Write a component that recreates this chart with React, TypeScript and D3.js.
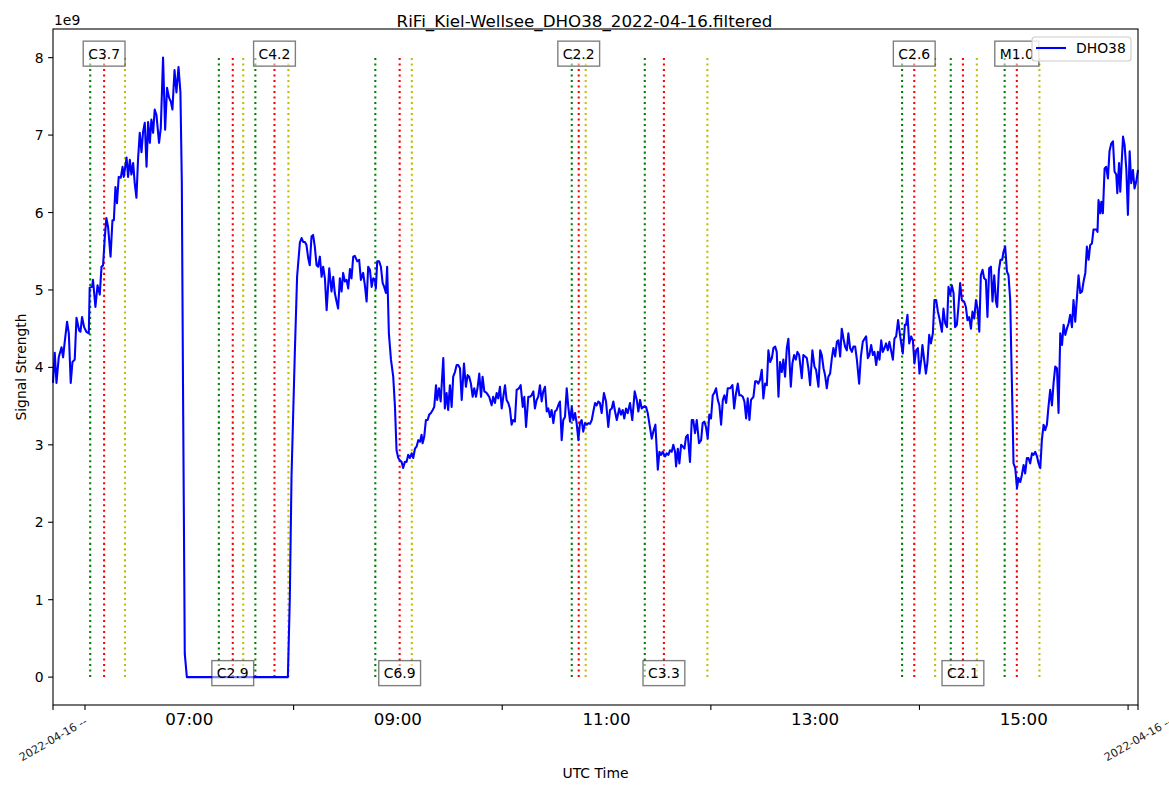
import { useRef, useEffect } from "react";
import * as d3 from "d3";

// [minute of day (UTC), signal strength in units of 1e9]
const dho38: [number, number][] = [
  [341.6,3.80],[342.6,4.19],[343.6,3.80],[344.9,4.13],[346.5,4.26],[347.4,4.13],[348.3,4.32],[349.7,4.59],[350.7,4.44],[351.8,3.80],
  [352.8,4.07],[354.1,4.10],[355.1,4.64],[356.6,4.48],[357.4,4.46],[358.3,4.65],[359.5,4.52],[360.8,4.46],[362.2,4.44],[362.7,5.03],
  [364.1,5.04],[364.6,5.13],[366.0,4.78],[367.2,5.06],[368.5,4.94],[369.5,5.30],[370.4,5.32],[371.4,5.68],[372.3,5.93],[373.3,5.81],
  [374.7,5.43],[375.8,5.90],[376.6,5.90],[377.5,6.33],[378.4,6.12],[379.4,6.46],[380.6,6.45],[381.6,6.59],[382.3,6.46],[383.9,6.71],
  [384.8,6.46],[385.8,6.68],[386.7,6.49],[387.7,6.64],[388.6,6.38],[389.6,6.19],[390.5,6.68],[391.5,7.03],[392.5,6.78],[393.4,7.04],
  [394.4,7.16],[395.4,6.59],[396.3,7.17],[397.3,6.90],[398.2,7.20],[399.2,7.03],[400.1,7.33],[401.1,7.26],[402.6,6.90],[403.6,7.09],
  [404.9,8.00],[406.1,7.07],[407.2,7.61],[408.4,7.48],[409.4,7.43],[410.3,7.33],[411.5,7.84],[412.6,7.55],[413.8,7.88],[414.9,7.55],
  [415.7,6.38],[416.4,3.70],[417.4,0.30],[418.6,0.00],
  [476.7,0.00],[477.8,1.00],[478.8,2.59],[480.7,4.19],[482.0,5.17],[483.6,5.61],[484.6,5.67],[485.5,5.62],[486.5,5.62],[487.4,5.58],
  [488.4,5.41],[489.3,5.32],[490.3,5.69],[491.2,5.71],[492.2,5.56],[493.2,5.32],[494.1,5.30],[495.1,5.43],[496.1,5.17],[497.0,5.30],
  [498.0,5.15],[499.0,4.74],[500.5,5.28],[501.8,4.98],[502.8,5.17],[503.7,4.96],[504.7,4.85],[505.6,4.76],[506.6,5.15],[507.6,4.98],
  [508.5,5.22],[509.5,5.11],[510.5,5.13],[511.4,5.02],[512.4,5.27],[513.3,5.15],[514.3,5.43],[515.2,5.44],[516.6,5.37],[517.7,5.39],
  [518.7,5.13],[520.0,5.22],[521.0,5.06],[522.0,4.85],[522.9,5.30],[523.9,5.26],[524.9,5.04],[525.8,5.15],[526.8,5.13],[527.3,5.02],
  [528.1,5.37],[529.2,5.37],[530.2,5.30],[531.2,5.09],[532.1,5.04],[533.1,4.96],[533.8,5.30],[534.8,4.44],[536.0,4.10],[537.3,3.88],
  [538.3,3.49],[539.2,2.93],[540.2,2.83],[541.1,2.80],[542.1,2.78],[543.0,2.70],[544.0,2.78],[545.0,2.78],[545.9,2.87],[546.9,2.83],
  [547.9,2.89],[548.8,2.83],[549.8,2.95],[550.8,2.98],[551.7,3.06],[552.7,3.04],[553.6,3.13],[554.2,3.02],[555.1,3.10],[556.1,3.32],
  [557.1,3.32],[558.0,3.39],[559.0,3.41],[560.0,3.45],[560.9,3.49],[561.9,3.77],[562.6,3.58],[563.6,3.73],[564.6,3.56],[566.1,4.12],
  [567.0,3.47],[568.0,3.67],[568.9,3.45],[569.9,3.77],[570.9,3.49],[571.8,3.88],[572.8,3.94],[573.8,4.03],[574.7,4.03],[575.7,3.99],
  [576.7,3.58],[578.0,4.05],[579.1,3.75],[580.1,3.90],[581.0,3.88],[582.0,3.79],[583.0,3.62],[583.9,3.73],[584.9,3.62],[585.9,3.75],
  [586.8,3.92],[587.8,3.62],[588.7,3.88],[589.7,3.69],[591.0,3.67],[592.5,3.62],[593.9,3.51],[594.8,3.62],[595.8,3.54],[596.8,3.67],
  [597.7,3.60],[598.7,3.75],[599.7,3.47],[600.6,3.62],[601.6,3.77],[602.5,3.58],[603.5,3.54],[604.4,3.47],[605.4,3.26],[606.3,3.32],
  [607.3,3.30],[608.3,3.71],[609.6,3.73],[610.6,3.77],[611.8,3.49],[612.7,3.62],[613.7,3.23],[615.0,3.62],[616.0,3.62],[616.9,3.64],
  [617.9,3.69],[618.8,3.47],[619.8,3.58],[620.7,3.62],[621.7,3.77],[622.7,3.56],[623.6,3.69],[624.6,3.75],[625.6,3.43],[626.5,3.47],
  [627.5,3.36],[628.4,3.45],[629.4,3.28],[630.3,3.43],[631.3,3.45],[632.2,3.51],[633.2,3.56],[634.2,3.06],[635.1,3.32],[636.1,3.36],
  [637.1,3.73],[638.0,3.49],[639.0,3.30],[640.0,3.49],[640.9,3.32],[641.9,3.41],[642.8,3.28],[643.8,3.06],[644.7,3.28],[645.7,3.32],
  [646.6,3.17],[647.6,3.28],[648.6,3.26],[649.5,3.28],[650.5,3.27],[651.5,3.32],[652.4,3.43],[653.4,3.54],[654.3,3.51],[655.3,3.56],
  [656.2,3.54],[657.2,3.41],[658.5,3.67],[659.7,3.56],[661.0,3.23],[662.0,3.45],[663.0,3.47],[663.9,3.56],[664.9,3.43],[665.9,3.32],
  [667.3,3.47],[668.3,3.39],[669.3,3.45],[670.2,3.34],[671.2,3.47],[672.2,3.41],[673.5,3.54],[674.8,3.32],[676.2,3.69],[677.4,3.58],
  [678.3,3.43],[679.3,3.58],[680.2,3.47],[681.2,3.49],[682.7,3.49],[683.7,3.41],[684.6,3.28],[686.0,3.08],[686.9,3.17],[688.1,3.26],
  [689.5,2.68],[690.4,2.91],[691.4,2.87],[692.3,2.91],[693.7,2.85],[694.6,2.89],[695.6,2.87],[696.5,2.93],[697.5,2.91],[698.4,3.00],
  [699.4,2.91],[700.0,2.72],[701.0,2.95],[701.9,2.76],[702.9,3.00],[703.8,2.98],[704.8,2.95],[705.7,3.10],[706.7,3.13],[708.0,2.78],
  [709.0,3.32],[709.9,3.32],[710.9,3.15],[711.9,3.32],[713.2,3.02],[714.4,3.06],[715.3,3.28],[716.3,3.30],[717.2,3.23],[718.2,3.08],
  [719.1,3.39],[720.1,3.34],[721.1,3.64],[722.0,3.67],[723.0,3.73],[724.0,3.58],[724.9,3.51],[725.9,3.26],[726.9,3.58],[727.8,3.64],
  [728.8,3.54],[729.7,3.73],[731.1,3.73],[732.4,3.77],[733.4,3.47],[734.3,3.64],[735.5,3.79],[736.4,3.64],[737.4,3.64],[738.4,3.62],
  [739.3,3.56],[740.3,3.34],[741.2,3.60],[742.2,3.32],[743.1,3.58],[744.5,3.62],[745.5,3.82],[746.4,3.82],[747.3,3.79],[748.3,3.84],
  [749.3,3.97],[750.2,3.60],[751.2,3.79],[752.2,3.77],[753.1,4.22],[754.1,4.07],[755.1,4.12],[756.0,4.25],[757.0,4.27],[757.9,4.20],
  [758.9,3.62],[759.8,4.07],[760.8,3.94],[761.7,4.10],[762.7,3.88],[763.7,4.25],[764.6,4.37],[766.0,3.75],[766.9,4.05],[767.9,4.16],
  [768.9,4.10],[769.8,4.20],[770.8,4.16],[772.3,3.86],[773.2,4.16],[774.2,4.14],[775.2,4.12],[776.1,3.99],[777.1,3.77],[778.4,4.22],
  [779.6,4.01],[780.5,3.97],[781.9,3.75],[782.9,4.22],[783.8,4.16],[784.8,3.99],[785.7,3.90],[786.7,3.73],[787.6,3.88],[788.6,3.92],
  [789.6,4.12],[790.5,4.25],[791.5,4.14],[792.5,4.33],[793.4,4.35],[794.4,4.14],[795.3,4.50],[796.3,4.37],[797.2,4.27],[798.2,4.22],
  [799.1,4.44],[800.1,4.25],[801.1,4.20],[802.0,4.27],[803.0,4.27],[804.0,4.10],[805.3,3.79],[806.3,4.14],[807.4,4.33],[808.4,4.37],
  [809.3,4.40],[810.3,4.12],[811.2,4.16],[812.2,4.29],[813.2,4.16],[814.1,4.20],[815.1,4.03],[816.1,4.20],[817.0,4.10],[818.0,4.35],
  [818.9,4.20],[819.9,4.25],[820.8,4.31],[821.8,4.22],[822.7,4.33],[824.7,4.10],[825.6,4.37],[826.6,4.40],[827.7,4.61],[828.9,4.40],
  [830.4,4.18],[831.6,4.55],[832.3,4.55],[833.1,4.68],[834.1,4.31],[835.2,4.40],[836.2,4.35],[837.1,4.05],[838.1,4.22],[839.1,4.25],
  [840.0,3.92],[841.0,4.10],[841.7,4.29],[842.7,4.10],[843.7,3.92],[844.6,4.07],[845.6,4.42],[846.6,4.31],[847.7,4.44],[848.6,4.87],
  [849.6,4.87],[850.6,4.72],[851.5,4.63],[852.9,4.46],[853.8,4.76],[854.8,4.57],[855.8,4.52],[856.7,5.04],[857.7,4.94],[858.6,5.06],
  [859.6,4.96],[860.5,4.52],[861.5,4.55],[862.4,4.78],[863.4,5.09],[864.4,4.87],[865.7,4.85],[866.7,4.78],[867.6,4.61],[868.6,4.65],
  [869.6,4.50],[870.5,4.72],[871.5,4.63],[872.5,4.87],[873.4,4.76],[874.4,4.46],[875.3,5.19],[876.3,5.26],[877.2,5.15],[878.2,5.13],
  [879.1,4.65],[880.1,5.28],[881.1,5.30],[882.0,4.85],[883.0,5.19],[884.0,4.85],[884.7,4.78],[885.7,5.26],[886.6,5.39],[887.6,5.39],
  [888.3,5.49],[889.3,5.56],[890.3,5.24],[891.2,5.19],[892.2,4.87],[892.8,4.18],[893.5,3.45],[894.1,2.76],[895.1,2.70],[896.1,2.44],
  [897.0,2.57],[898.0,2.52],[898.9,2.61],[899.9,2.74],[900.8,2.63],[901.8,2.83],[902.7,2.83],[903.7,2.76],[904.7,2.89],[905.6,2.87],
  [906.6,2.91],[907.6,2.85],[908.5,2.76],[909.5,2.70],[910.4,3.06],[911.4,3.26],[912.3,3.19],[913.3,3.26],[914.2,3.49],[915.2,3.71],
  [916.2,3.51],[917.1,3.79],[918.1,4.01],[919.1,3.99],[920.0,3.41],[921.0,4.44],[922.0,4.29],[922.9,4.55],[923.9,4.42],[924.8,4.50],
  [925.8,4.57],[926.7,4.68],[927.7,4.52],[928.6,4.87],[929.6,4.59],[930.6,4.91],[931.5,5.19],[932.5,4.96],[933.5,4.98],[934.4,5.11],
  [935.4,5.22],[936.3,5.56],[937.3,5.39],[938.2,5.58],[939.2,5.60],[940.1,5.78],[941.7,5.78],[942.4,5.75],[943.0,6.16],[944.0,5.99],
  [944.6,6.14],[945.5,5.99],[946.5,6.57],[947.4,6.59],[948.4,6.44],[949.3,6.79],[950.3,6.89],[951.3,6.92],[952.2,6.53],[953.2,6.49],
  [953.8,6.25],[954.8,6.64],[955.5,6.27],[956.3,6.64],[957.1,6.98],[958.0,6.87],[959.0,6.55],[959.9,5.97],[960.9,6.79],[961.8,6.38],
  [962.8,6.55],[963.7,6.31],[964.7,6.40],[965.7,6.55],
];

// GOES flare events: class, start, peak, end (UTC)
const flareClass = ["C3.7", "C2.9", "C4.2", "C6.9", "C2.2", "C3.3", "C2.6", "C2.1", "M1.0"];
const flareStart = ["06:03", "07:17", "07:38", "08:47", "10:40", "11:22", "13:50", "14:18", "14:49"];
const flarePeak = ["06:11", "07:25", "07:49", "09:01", "10:44", "11:33", "13:57", "14:25", "14:56"];
const flareEnd = ["06:23", "07:31", "07:57", "09:08", "10:48", "11:58", "14:09", "14:33", "15:09"];

const tickHours = [6, 8, 10, 12, 14, 16];
const labelHours = [7, 9, 11, 13, 15];
const yTicks = [0, 1, 2, 3, 4, 5, 6, 7, 8];
const dateLabel = "2022-04-16 --";

const W = 1169;
const H = 792;
const FONT = "DejaVu Sans, Liberation Sans, sans-serif";

const toMin = (s: string) => {
  const [h, m] = s.split(":").map(Number);
  return h * 60 + m;
};

export default function App() {
  const svgRef = useRef<SVGSVGElement>(null);

  useEffect(() => {
    if (!svgRef.current) return;
    const svg = d3.select(svgRef.current);
    svg.selectAll("*").remove();

    const margin = { top: 29, right: 31, bottom: 87, left: 53 };
    const x0 = margin.left;
    const x1 = W - margin.right;
    const y0 = margin.top;
    const y1 = H - margin.bottom;

    const xScale = d3.scaleLinear()
      .domain(d3.extent(dho38, (d) => d[0]) as [number, number])
      .range([x0, x1]);
    const yScale = d3.scaleLinear().domain([-0.36, 8.37]).range([y1, y0]);

    svg.attr("width", W).attr("height", H).style("font-family", FONT);
    svg.append("rect").attr("width", W).attr("height", H).attr("fill", "#fff");

    const vmax = d3.max(dho38, (d) => d[1]) as number;

    // flare markers
    const markers = svg.append("g");
    const kinds: [string[], string][] = [
      [flareStart, "#008000"],
      [flarePeak, "#ff0000"],
      [flareEnd, "#bfbf00"],
    ];
    kinds.forEach(([times, color]) => {
      markers.selectAll(null)
        .data(times)
        .join("line")
        .attr("x1", (t) => xScale(toMin(t)))
        .attr("x2", (t) => xScale(toMin(t)))
        .attr("y1", yScale(0))
        .attr("y2", yScale(vmax))
        .attr("stroke", color)
        .attr("stroke-width", 2.08)
        .attr("stroke-dasharray", "2.08,3.43");
    });

    // signal line
    const line = d3.line<[number, number]>()
      .x((d) => xScale(d[0]))
      .y((d) => yScale(d[1]));
    svg.append("path")
      .datum(dho38)
      .attr("d", line)
      .attr("fill", "none")
      .attr("stroke", "#0000ff")
      .attr("stroke-width", 2.08)
      .attr("stroke-linejoin", "round");

    // flare class labels, alternating top / bottom
    flareClass.forEach((c, i) => {
      const cx = xScale(toMin(flarePeak[i]));
      const cy = yScale(i % 2 === 0 ? vmax : 0) - 4;
      const g = svg.append("g");
      const rect = g.append("rect");
      const txt = g.append("text")
        .attr("x", cx).attr("y", cy + 5)
        .attr("text-anchor", "middle")
        .attr("font-size", 13.9)
        .attr("fill", "#000")
        .text(c);
      const tw = (txt.node() as SVGTextElement).getComputedTextLength();
      rect.attr("x", cx - tw / 2 - 5).attr("y", cy - 12.5)
        .attr("width", tw + 10).attr("height", 25)
        .attr("fill", "#fff").attr("fill-opacity", 0.5)
        .attr("stroke", "#000").attr("stroke-opacity", 0.5)
        .attr("stroke-width", 1.39);
    });

    // frame
    svg.append("rect")
      .attr("x", x0).attr("y", y0)
      .attr("width", x1 - x0).attr("height", y1 - y0)
      .attr("fill", "none").attr("stroke", "#000").attr("stroke-width", 1.1);

    // y axis
    const ya = svg.append("g");
    yTicks.forEach((v) => {
      const y = yScale(v);
      ya.append("line").attr("x1", x0 - 4.9).attr("x2", x0).attr("y1", y).attr("y2", y)
        .attr("stroke", "#000").attr("stroke-width", 1.1);
      ya.append("text").attr("x", x0 - 9.5).attr("y", y + 5)
        .attr("text-anchor", "end").attr("font-size", 13.9).text(String(v));
    });
    svg.append("text").attr("x", x0 + 1).attr("y", 25)
      .attr("font-size", 13.9).text("1e9");
    svg.append("text")
      .attr("transform", `translate(26, ${(y0 + y1) / 2}) rotate(-90)`)
      .attr("text-anchor", "middle").attr("font-size", 13.9)
      .text("Signal Strength");

    // x axis
    const xa = svg.append("g");
    const tickXs = [x0, ...tickHours.map((h) => xScale(h * 60)), x1];
    tickXs.forEach((x) => {
      xa.append("line").attr("x1", x).attr("x2", x).attr("y1", y1).attr("y2", y1 + 4.9)
        .attr("stroke", "#000").attr("stroke-width", 1.1);
    });
    labelHours.forEach((h) => {
      xa.append("text").attr("x", xScale(h * 60)).attr("y", 725)
        .attr("text-anchor", "middle").attr("font-size", 16.7)
        .text(`${String(h).padStart(2, "0")}:00`);
    });
    [x0, x1].forEach((x) => {
      xa.append("text")
        .attr("transform", `translate(${x}, 739) rotate(-30)`)
        .attr("y", 4)
        .attr("text-anchor", "middle").attr("font-size", 11.1)
        .attr("fill", "#222")
        .text(dateLabel);
    });
    svg.append("text").attr("x", (x0 + x1) / 2).attr("y", 778)
      .attr("text-anchor", "middle").attr("font-size", 13.9).text("UTC Time");

    // title
    svg.append("text").attr("x", W / 2).attr("y", 27)
      .attr("text-anchor", "middle").attr("font-size", 16.7)
      .text("RiFi_Kiel-Wellsee_DHO38_2022-04-16.filtered");

    // legend
    const lg = svg.append("g");
    lg.append("rect").attr("x", 1032).attr("y", 37).attr("width", 99).attr("height", 24)
      .attr("rx", 3).attr("fill", "#fff").attr("fill-opacity", 0.8)
      .attr("stroke", "#cccccc").attr("stroke-width", 1.1);
    lg.append("line").attr("x1", 1036).attr("x2", 1066).attr("y1", 48).attr("y2", 48)
      .attr("stroke", "#0000ff").attr("stroke-width", 2.08);
    lg.append("text").attr("x", 1076).attr("y", 53).attr("font-size", 13.9).text("DHO38");
  }, []);

  return (
    <svg ref={svgRef} style={{ position: "absolute", left: 0, top: 0, display: "block" }} />
  );
}
